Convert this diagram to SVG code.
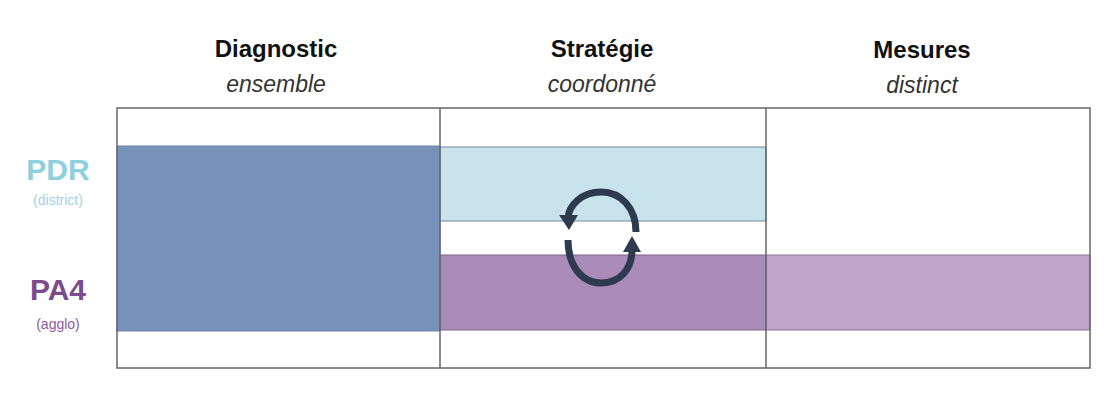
<svg xmlns="http://www.w3.org/2000/svg" width="1106" height="405" viewBox="0 0 1106 405">
<style>
.h{font-family:"Liberation Sans",Arial,sans-serif;font-weight:bold;font-size:24px;fill:#111;text-anchor:middle}
.s{font-family:"Liberation Sans",Arial,sans-serif;font-style:italic;font-size:23px;fill:#333;text-anchor:middle}
.big{font-family:"Liberation Sans",Arial,sans-serif;font-weight:bold;font-size:30px;text-anchor:middle}
.sm{font-family:"Liberation Sans",Arial,sans-serif;font-size:14px;text-anchor:middle}
.grid{fill:none;stroke:#666;stroke-width:1.5}
.arc{fill:none;stroke:#2e3b4e;stroke-width:7}
</style>
<rect width="1106" height="405" fill="#fff"/>
<g id="headers">
<text class="h" x="276" y="57">Diagnostic</text>
<text class="s" x="276" y="92">ensemble</text>
<text class="h" x="602" y="57">Stratégie</text>
<text class="s" x="602" y="92">coordonné</text>
<text class="h" x="922" y="58">Mesures</text>
<text class="s" x="922" y="93">distinct</text>
</g>
<g id="row-labels">
<text class="big" x="58" y="180" fill="#8ecfe0">PDR</text>
<text class="sm" x="58" y="205" fill="#9fd3e3">(district)</text>
<text class="big" x="58" y="300" fill="#7b4b8c">PA4</text>
<text class="sm" x="58" y="329" fill="#8c5a9c">(agglo)</text>
</g>
<g id="diagnostic-block">
<rect x="117" y="146" width="323" height="185" fill="#7892bb" stroke="#6a84ad" stroke-width="1"/>
</g>
<g id="pdr-strategie">
<rect x="440" y="147" width="326" height="74" fill="#c8e3ec" stroke="#6e8a96" stroke-width="1"/>
</g>
<g id="pa4-strategie">
<rect x="440" y="255" width="326" height="75" fill="#ab8bb8" stroke="#7d6488" stroke-width="1"/>
</g>
<g id="pa4-mesures">
<rect x="766" y="255" width="324" height="75" fill="#bea4c8" stroke="#8e7898" stroke-width="1"/>
</g>
<g id="grid">
<rect class="grid" x="117" y="108" width="973" height="260"/>
<line class="grid" x1="440" y1="108" x2="440" y2="368"/>
<line class="grid" x1="766" y1="108" x2="766" y2="368"/>
</g>
<g id="connectors">
<path class="arc" d="M636,232 C636,208 621,192 601,192 C582,192 569,205 568,218"/>
<polygon points="559,215 578,215 569,230" fill="#2e3b4e"/>
<path class="arc" d="M568,240 C568,266 582,283 601,283 C621,283 632,268 632,250"/>
<polygon points="623,252 641,252 632,236" fill="#2e3b4e"/>
</g>
</svg>
